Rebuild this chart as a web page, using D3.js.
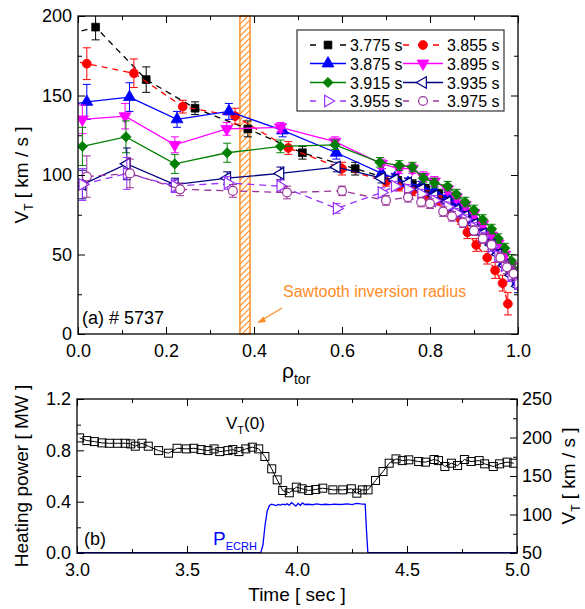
<!DOCTYPE html>
<html>
<head>
<meta charset="utf-8">
<script src="https://cdn.jsdelivr.net/npm/d3@7"></script>
<style>
  body { margin: 0; background: #fff; }
  svg { display: block; }
  text { font-family: "Liberation Sans", Arial, sans-serif; fill: #000; }
</style>
</head>
<body>
<svg id="chart" width="585" height="609"></svg>
<script>
// ---------- (a) toroidal rotation profiles: rho_tor, V_T [km/s], error ----------
const rho3775 = [-0.04, 0.04, 0.155, 0.266, 0.386, 0.51, 0.63, 0.727, 0.76, 0.79, 0.82, 0.85, 0.87, 0.89, 0.91, 0.93, 0.95, 0.965, 0.98, 0.995];
const v3775   = [187, 193, 160, 142, 129, 114, 104, 96, 94, 91, 88, 83, 79, 75, 69, 62, 55, 49, 42, 35];
const err3775 = [0, 8, 8, 4, 5, 4, 4, 3, 3, 3, 3, 3, 3, 3, 3, 3, 3, 3, 3, 3];

const rho3855 = [-0.02, 0.02, 0.127, 0.238, 0.357, 0.478, 0.60, 0.70, 0.73, 0.76, 0.79, 0.82, 0.85, 0.87, 0.885, 0.905, 0.93, 0.948, 0.965, 0.977];
const v3855   = [172, 170, 164, 143, 137, 117, 104, 96, 93, 90, 87, 84, 77, 72, 64, 56, 48, 40, 32, 19];
const err3855 = [0, 10, 9, 4, 5, 4, 4, 3, 3, 3, 3, 3, 3, 3, 4, 4, 4, 5, 5, 7];

const rho3875 = [-0.02, 0.02, 0.117, 0.225, 0.343, 0.465, 0.587, 0.69, 0.72, 0.75, 0.78, 0.81, 0.84, 0.86, 0.88, 0.90, 0.92, 0.94, 0.955, 0.97, 0.985, 1.0];
const v3875   = [144, 146, 149, 135, 140, 128, 114, 101, 98, 95, 93, 90, 86, 82, 78, 72, 66, 59, 53, 46, 40, 33];
const err3875 = [0, 11, 9, 5, 5, 4, 4, 3, 3, 3, 3, 3, 3, 3, 3, 3, 3, 3, 3, 4, 4, 4];

const rho3895 = [0.01, 0.107, 0.22, 0.338, 0.46, 0.584, 0.69, 0.73, 0.76, 0.785, 0.81, 0.84, 0.86, 0.88, 0.90, 0.92, 0.94, 0.955, 0.97, 0.985, 1.0];
const v3895   = [135, 137, 119, 129, 130, 121, 107, 104, 104, 99, 96, 91, 86, 81, 76, 69, 62, 57, 50, 43, 37];
const err3895 = [9, 8, 5, 4, 3, 3, 3, 3, 3, 3, 3, 3, 3, 3, 3, 3, 3, 3, 3, 4, 4];

const rho3915 = [0.01, 0.109, 0.22, 0.339, 0.46, 0.584, 0.686, 0.73, 0.76, 0.785, 0.81, 0.84, 0.86, 0.88, 0.90, 0.92, 0.94, 0.955, 0.97, 0.985, 1.0];
const v3915   = [118, 124, 107, 114, 118, 119, 108, 106, 105, 98, 95, 93, 88, 83, 78, 72, 66, 60, 54, 46, 40];
const err3915 = [12, 10, 6, 6, 4, 3, 3, 3, 3, 3, 3, 3, 3, 3, 3, 3, 3, 3, 3, 4, 4];

const rho3935 = [0.01, 0.111, 0.22, 0.339, 0.46, 0.588, 0.69, 0.72, 0.75, 0.78, 0.81, 0.84, 0.86, 0.88, 0.90, 0.92, 0.94, 0.955, 0.97, 0.985, 1.0];
const v3935   = [94, 107, 94, 98, 101, 105, 98, 97, 95, 91, 87, 83, 78, 74, 69, 63, 56, 50, 43, 37, 30];
const err3935 = [9, 10, 4, 4, 4, 3, 3, 3, 3, 3, 3, 3, 3, 3, 3, 3, 3, 3, 3, 4, 4];

const rho3955 = [0.01, 0.111, 0.22, 0.34, 0.46, 0.588, 0.69, 0.72, 0.75, 0.78, 0.81, 0.84, 0.86, 0.88, 0.90, 0.92, 0.94, 0.955, 0.97, 0.985, 1.0];
const v3955   = [94, 101, 93, 95, 93, 79, 89, 93, 91, 88, 84, 80, 76, 72, 67, 61, 55, 49, 43, 37, 32];
const err3955 = [10, 10, 4, 4, 4, 3, 3, 3, 3, 3, 3, 3, 3, 3, 3, 3, 3, 3, 3, 4, 4];

const rho3975 = [0.02, 0.118, 0.232, 0.352, 0.475, 0.60, 0.70, 0.75, 0.78, 0.80, 0.83, 0.85, 0.875, 0.90, 0.92, 0.94, 0.96, 0.975, 0.99];
const v3975   = [99, 101, 91, 90, 89, 90, 84, 86, 83, 82, 77, 74, 70, 65, 60, 56, 48, 42, 38];
const err3975 = [13, 9, 4, 4, 4, 3, 3, 3, 3, 3, 3, 3, 3, 3, 3, 3, 3, 4, 4];

const rhoTicks = [0, 0.2, 0.4, 0.6, 0.8, 1.0];
const vtTicks  = [0, 50, 100, 150, 200];

// sawtooth inversion radius band
const sawtoothRho = [0.368, 0.391];

// ---------- (b) time traces ----------
const tVt = [3.012, 3.045, 3.079, 3.113, 3.147, 3.185, 3.219, 3.244, 3.265, 3.295,
             3.324, 3.371, 3.416, 3.455, 3.497, 3.531, 3.564, 3.595, 3.623, 3.649,
             3.686, 3.708, 3.736, 3.767, 3.797, 3.826, 3.854, 3.885, 3.910, 3.935,
             3.965, 3.997, 4.023, 4.053, 4.085, 4.117, 4.163, 4.208, 4.247, 4.272,
             4.297, 4.323, 4.357, 4.391, 4.419, 4.450, 4.479, 4.508, 4.553, 4.584,
             4.623, 4.643, 4.672, 4.702, 4.730, 4.761, 4.791, 4.828, 4.853, 4.892,
             4.921, 4.955, 4.985];
const vVt = [199.5, 196, 194.7, 193, 192.5, 192.5, 192.5, 191.7, 188.7, 192.5,
             188.7, 183, 179.6, 186, 185.2, 186, 184.3, 183, 185.2, 181.7,
             183, 184.3, 181.7, 185.2, 187.4, 185.2, 175.3, 159.3, 145, 131.2,
             128.2, 135.5, 133.4, 131.2, 132.5, 134.2, 132, 132, 133.4, 127.7,
             132, 132, 144.2, 155.8, 166.6, 172.2, 170, 171, 168.8, 168,
             171.4, 170, 162.3, 166.6, 163.6, 171.4, 168.8, 170, 165.8, 162.3,
             165.8, 168, 166.6];

const tEcrh = [3.0, 3.835, 3.845, 3.855, 3.865, 3.875, 3.885, 3.895, 3.905, 3.915,
               3.925, 3.935, 3.945, 3.955, 3.965, 3.975, 3.985, 3.995, 4.005, 4.015,
               4.025, 4.035, 4.05, 4.07, 4.09, 4.11, 4.13, 4.15, 4.17, 4.19,
               4.21, 4.23, 4.25, 4.27, 4.29, 4.31, 4.315, 4.322, 5.0];
const pEcrh = [0.003, 0.003, 0.06, 0.22, 0.33, 0.37, 0.38, 0.375, 0.37, 0.378,
               0.373, 0.38, 0.376, 0.383, 0.372, 0.392, 0.38, 0.365, 0.386, 0.372,
               0.39, 0.378, 0.38, 0.376, 0.382, 0.377, 0.38, 0.377, 0.381, 0.378,
               0.38, 0.383, 0.377, 0.386, 0.382, 0.38, 0.2, 0.003, 0.003];

const timeTicks  = [3.0, 3.5, 4.0, 4.5, 5.0];
const powerTicks = [0.0, 0.4, 0.8, 1.2];
const vtRightTicks = [50, 100, 150, 200, 250];

const series = [
  { label: "3.775 s", rho: rho3775, v: v3775, err: err3775, color: "#000000", dash: "6,5", symbol: "square",   open: false },
  { label: "3.855 s", rho: rho3855, v: v3855, err: err3855, color: "#ff0000", dash: "6,5", symbol: "circle",   open: false },
  { label: "3.875 s", rho: rho3875, v: v3875, err: err3875, color: "#0000ff", dash: null,  symbol: "triUp",    open: false },
  { label: "3.895 s", rho: rho3895, v: v3895, err: err3895, color: "#ff00ff", dash: null,  symbol: "triDown",  open: false },
  { label: "3.915 s", rho: rho3915, v: v3915, err: err3915, color: "#008000", dash: null,  symbol: "diamond",  open: false },
  { label: "3.935 s", rho: rho3935, v: v3935, err: err3935, color: "#000080", dash: null,  symbol: "triLeft",  open: true },
  { label: "3.955 s", rho: rho3955, v: v3955, err: err3955, color: "#9933ff", dash: "7,5", symbol: "triRight", open: true },
  { label: "3.975 s", rho: rho3975, v: v3975, err: err3975, color: "#993399", dash: "7,5", symbol: "circle",   open: true }
];

const ORANGE = "#ff8c26";
const svg = d3.select("#chart");

// marker shapes
function markerPath(sym) {
  switch (sym) {
    case "square":  return { d: d3.symbol(d3.symbolSquare, 60)(), rot: 0 };
    case "circle":  return { d: d3.symbol(d3.symbolCircle, 62)(), rot: 0 };
    case "triUp":   return { d: d3.symbol(d3.symbolTriangle, 62)(), rot: 0 };
    case "triDown": return { d: d3.symbol(d3.symbolTriangle, 62)(), rot: 180 };
    case "triLeft": return { d: d3.symbol(d3.symbolTriangle, 58)(), rot: -90 };
    case "triRight":return { d: d3.symbol(d3.symbolTriangle, 58)(), rot: 90 };
    case "diamond": return { d: d3.symbol(d3.symbolSquare, 52)(), rot: 45 };
  }
}
function drawMarker(g, sym, x, y, color, open) {
  const m = markerPath(sym);
  g.append("path")
    .attr("d", m.d)
    .attr("transform", `translate(${x},${y}) rotate(${m.rot})`)
    .attr("fill", open ? "#fff" : color)
    .attr("stroke", color)
    .attr("stroke-width", open ? 1.2 : 0.8);
}

// boxed axes with inward ticks on all four sides
function boxAxes(g, x, y, o) {
  const [x0, x1] = x.range();
  const [y0, y1] = y.range(); // y0 bottom, y1 top
  const fs = 18;
  g.append("g").attr("transform", `translate(0,${y0})`)
    .call(d3.axisBottom(x).tickValues(o.xTicks).tickSizeInner(-7).tickSizeOuter(0)
      .tickPadding(o.xPad).tickFormat(d3.format(".1f")));
  g.append("g").attr("transform", `translate(0,${y0})`)
    .call(d3.axisBottom(x).tickValues(o.xMinor).tickSize(-4).tickFormat(""));
  g.append("g").attr("transform", `translate(0,${y1})`)
    .call(d3.axisTop(x).tickValues(o.xTicks).tickSize(-7).tickFormat(""));
  g.append("g").attr("transform", `translate(0,${y1})`)
    .call(d3.axisTop(x).tickValues(o.xMinor).tickSize(-4).tickFormat(""));
  g.append("g").attr("transform", `translate(${x0},0)`)
    .call(d3.axisLeft(y).tickValues(o.yTicks).tickSizeInner(-7).tickSizeOuter(0)
      .tickPadding(6).tickFormat(o.yFmt));
  g.append("g").attr("transform", `translate(${x0},0)`)
    .call(d3.axisLeft(y).tickValues(o.yMinor).tickSize(-4).tickFormat(""));
  if (o.yR) {
    g.append("g").attr("transform", `translate(${x1},0)`)
      .call(d3.axisRight(o.yR).tickValues(o.yRTicks).tickSizeInner(-7).tickSizeOuter(0)
        .tickPadding(5).tickFormat(d3.format("d")));
    g.append("g").attr("transform", `translate(${x1},0)`)
      .call(d3.axisRight(o.yR).tickValues(o.yRMinor).tickSize(-4).tickFormat(""));
  } else {
    g.append("g").attr("transform", `translate(${x1},0)`)
      .call(d3.axisRight(y).tickValues(o.yTicks).tickSize(-7).tickFormat(""));
    g.append("g").attr("transform", `translate(${x1},0)`)
      .call(d3.axisRight(y).tickValues(o.yMinor).tickSize(-4).tickFormat(""));
  }
  g.selectAll(".domain").remove();
  g.selectAll(".tick line").attr("stroke", "#000").attr("stroke-width", 1);
  g.selectAll(".tick text").attr("font-size", fs).attr("font-family", '"Liberation Sans", Arial, sans-serif').attr("fill", "#000");
  g.append("rect")
    .attr("x", x0).attr("y", y1).attr("width", x1 - x0).attr("height", y0 - y1)
    .attr("fill", "none").attr("stroke", "#000").attr("stroke-width", 1.3);
}

// ================= panel (a) =================
const xA = d3.scaleLinear().domain([0, 1]).range([78, 518]);
const yA = d3.scaleLinear().domain([0, 200]).range([334, 16]);

const defs = svg.append("defs");
defs.append("clipPath").attr("id", "clipA").append("rect")
  .attr("x", xA(0)).attr("y", yA(200)).attr("width", xA(1) - xA(0)).attr("height", yA(0) - yA(200));
const hatch = defs.append("pattern").attr("id", "hatch")
  .attr("patternUnits", "userSpaceOnUse").attr("width", 6).attr("height", 6);
hatch.append("path").attr("d", "M-1,7 L7,-1 M-1,1 L1,-1 M5,7 L7,5")
  .attr("stroke", ORANGE).attr("stroke-width", 1.1);

const gA = svg.append("g");

// sawtooth band
gA.append("rect")
  .attr("x", xA(sawtoothRho[0])).attr("y", yA(200))
  .attr("width", xA(sawtoothRho[1]) - xA(sawtoothRho[0]))
  .attr("height", yA(0) - yA(200))
  .attr("fill", "url(#hatch)").attr("stroke", ORANGE).attr("stroke-width", 1.5);

const plotA = gA.append("g").attr("clip-path", "url(#clipA)");
const lineA = d3.line().x(d => d[0]).y(d => d[1]);

series.forEach(s => {
  const pts = s.rho.map((r, i) => [xA(r), yA(s.v[i])]);
  plotA.append("path")
    .attr("d", lineA(pts))
    .attr("fill", "none").attr("stroke", s.color).attr("stroke-width", 1.3)
    .attr("stroke-dasharray", s.dash);
  s.rho.forEach((r, i) => {
    const e = s.err[i];
    if (e > 0) {
      const cx = xA(r), yt = yA(s.v[i] + e), yb = yA(s.v[i] - e);
      plotA.append("path")
        .attr("d", `M${cx},${yt}V${yb}M${cx - 4},${yt}H${cx + 4}M${cx - 4},${yb}H${cx + 4}`)
        .attr("stroke", s.color).attr("stroke-width", 1).attr("fill", "none");
    }
  });
  s.rho.forEach((r, i) => {
    if (r >= 0) drawMarker(plotA, s.symbol, xA(r), yA(s.v[i]), s.color, s.open);
  });
});

boxAxes(gA, xA, yA, {
  xTicks: rhoTicks, xMinor: [0.1, 0.3, 0.5, 0.7, 0.9], xPad: 10,
  yTicks: vtTicks, yMinor: [25, 75, 125, 175], yFmt: d3.format("d")
});

// axis titles (a)
const ytA = svg.append("text")
  .attr("transform", `translate(28,${yA(100)}) rotate(-90)`)
  .attr("text-anchor", "middle").attr("font-size", 19);
ytA.append("tspan").text("V");
ytA.append("tspan").attr("font-size", 12).attr("dy", 5).text("T");
ytA.append("tspan").attr("dy", -5).text(" [ km / s ]");

const xtA = svg.append("text").attr("x", 282).attr("y", 378).attr("font-size", 21);
xtA.append("tspan").text("ρ");
xtA.append("tspan").attr("font-size", 14).attr("dy", 6).text("tor");

svg.append("text").attr("x", 82).attr("y", 324).attr("font-size", 18).text("(a) # 5737");

svg.append("text").attr("x", 283).attr("y", 297).attr("font-size", 16)
  .style("fill", ORANGE).text("Sawtooth inversion radius");
// arrow toward the band
svg.append("line").attr("x1", 282).attr("y1", 308).attr("x2", 262).attr("y2", 320)
  .attr("stroke", ORANGE).attr("stroke-width", 1.3);
svg.append("path").attr("d", "M257,323 L263.5,316.5 L266,322 Z").attr("fill", ORANGE);

// legend
const legend = svg.append("g");
legend.append("rect").attr("x", 297).attr("y", 30).attr("width", 207).attr("height", 81)
  .attr("fill", "#fff").attr("stroke", "#333").attr("stroke-width", 1.2);
const legRows = [45, 63.5, 82.5, 101];
const legCols = [{ x0: 310, x1: 346, tx: 350 }, { x0: 403, x1: 443, tx: 447 }];
series.forEach((s, i) => {
  const c = legCols[i % 2], y = legRows[Math.floor(i / 2)];
  legend.append("line").attr("x1", c.x0).attr("x2", c.x1).attr("y1", y).attr("y2", y)
    .attr("stroke", s.color).attr("stroke-width", 1.3).attr("stroke-dasharray", s.dash ? "6,9" : null);
  drawMarker(legend, s.symbol, (c.x0 + c.x1) / 2, y, s.color, s.open);
  legend.append("text").attr("x", c.tx).attr("y", y + 6).attr("font-size", 16).text(s.label);
});

// ================= panel (b) =================
const xB = d3.scaleLinear().domain([3, 5]).range([77, 517]);
const yB = d3.scaleLinear().domain([0, 1.2]).range([553, 399]);
const yBR = d3.scaleLinear().domain([50, 250]).range([553, 399]);

defs.append("clipPath").attr("id", "clipB").append("rect")
  .attr("x", xB(3)).attr("y", yB(1.2)).attr("width", xB(5) - xB(3)).attr("height", yB(0) - yB(1.2));

const gB = svg.append("g");
const plotB = gB.append("g").attr("clip-path", "url(#clipB)");

plotB.append("path")
  .attr("d", d3.line().x((d, i) => xB(tEcrh[i])).y(d => yB(d))(pEcrh))
  .attr("fill", "none").attr("stroke", "#0000ff").attr("stroke-width", 1.3);

plotB.append("path")
  .attr("d", d3.line().x((d, i) => xB(tVt[i])).y(d => yBR(d))(vVt))
  .attr("fill", "none").attr("stroke", "#000").attr("stroke-width", 1);
tVt.forEach((t, i) => {
  plotB.append("rect")
    .attr("x", xB(t) - 4).attr("y", yBR(vVt[i]) - 4).attr("width", 8).attr("height", 8)
    .attr("fill", "none").attr("stroke", "#000").attr("stroke-width", 1);
});

boxAxes(gB, xB, yB, {
  xTicks: timeTicks, xMinor: [3.25, 3.75, 4.25, 4.75], xPad: 10,
  yTicks: powerTicks, yMinor: [0.2, 0.6, 1.0], yFmt: d3.format(".1f"),
  yR: yBR, yRTicks: vtRightTicks, yRMinor: [75, 125, 175, 225]
});

svg.append("text").attr("x", xB(4)).attr("y", 601).attr("text-anchor", "middle")
  .attr("font-size", 19).text("Time [ sec ]");

svg.append("text")
  .attr("transform", `translate(28,${yB(0.6)}) rotate(-90)`)
  .attr("text-anchor", "middle").attr("font-size", 19).text("Heating power [ MW ]");

const ytBR = svg.append("text")
  .attr("transform", `translate(575,${yB(0.6)}) rotate(-90)`)
  .attr("text-anchor", "middle").attr("font-size", 19);
ytBR.append("tspan").text("V");
ytBR.append("tspan").attr("font-size", 12).attr("dy", 5).text("T");
ytBR.append("tspan").attr("dy", -5).text(" [ km / s ]");

const vtLab = svg.append("text").attr("x", 226).attr("y", 429).attr("font-size", 17);
vtLab.append("tspan").text("V");
vtLab.append("tspan").attr("font-size", 11).attr("dy", 5).text("T");
vtLab.append("tspan").attr("dy", -5).text("(0)");

const pLab = svg.append("text").attr("x", 213).attr("y", 545).attr("font-size", 19).style("fill", "#0000ff");
pLab.append("tspan").text("P");
pLab.append("tspan").attr("font-size", 11).attr("dy", 5).text("ECRH");

svg.append("text").attr("x", 84).attr("y", 545).attr("font-size", 18).text("(b)");
</script>
</body>
</html>
